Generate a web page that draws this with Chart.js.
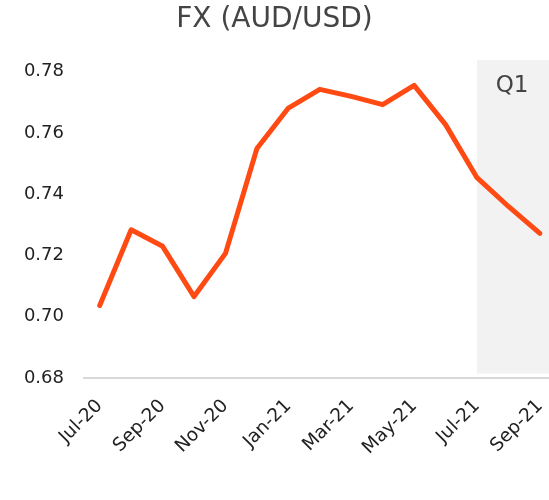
<!DOCTYPE html>
<html lang="en">
<head>
<meta charset="UTF-8">
<title>FX (AUD/USD)</title>
<script src="https://cdn.jsdelivr.net/npm/chart.js"></script>
<style>
    body { margin: 0; background: #fff; }
    .wrap { position: relative; width: 549px; height: 500px; }
</style>
</head>
<body>
<div class="wrap"><canvas id="fxChart"></canvas></div>
<script>
    // monthly AUD/USD, Jul-20 .. Sep-21
    const months = ['Jul-20','Aug-20','Sep-20','Oct-20','Nov-20','Dec-20','Jan-21','Feb-21',
                    'Mar-21','Apr-21','May-21','Jun-21','Jul-21','Aug-21','Sep-21'];
    const fxRate = [0.7037, 0.7284, 0.7230, 0.7066, 0.7207, 0.7549, 0.7681, 0.7742,
                    0.7719, 0.7692, 0.7755, 0.7627, 0.7454, 0.7360, 0.7272];
    const yTicks = [0.68, 0.70, 0.72, 0.74, 0.76, 0.78];
    const shadeFrom = 'Jul-21';
    const shadeLabel = 'Q1';

    const FONT = "'DejaVu Sans', sans-serif";

    // grey band for the quarter
    const shadePlugin = {
        id: 'shade',
        beforeDatasetsDraw(chart) {
            const { ctx, scales } = chart;
            const x0 = scales.x.getPixelForValue(months.indexOf(shadeFrom));
            const top = scales.y.getPixelForValue(0.7838);
            const bottom = scales.y.getPixelForValue(0.6815);
            ctx.save();
            ctx.fillStyle = '#f2f2f2';
            ctx.fillRect(x0, top, chart.width - x0, bottom - top);
            ctx.fillStyle = '#444';
            ctx.font = '23px ' + FONT;
            ctx.textAlign = 'center';
            ctx.textBaseline = 'middle';
            ctx.fillText(shadeLabel, (x0 + chart.width) / 2 - 1, scales.y.getPixelForValue(0.7752));
            ctx.restore();
        }
    };

    new Chart(document.getElementById('fxChart'), {
        type: 'line',
        data: {
            datasets: [{
                data: months.map((m, i) => ({ x: i, y: fxRate[i] })),
                borderColor: '#ff4a14',
                borderWidth: 5,
                pointRadius: 0,
                tension: 0,
                borderJoinStyle: 'round',
                borderCapStyle: 'round'
            }]
        },
        options: {
            responsive: true,
            maintainAspectRatio: false,
            animation: false,
            layout: { padding: { left: 0, right: 0, top: 0, bottom: 32 } },
            plugins: {
                legend: { display: false },
                tooltip: { enabled: false },
                title: {
                    display: true,
                    text: 'FX (AUD/USD)',
                    color: '#444',
                    font: { family: FONT, size: 28, weight: 'normal' },
                    padding: { top: 3, bottom: 35 }
                }
            },
            scales: {
                x: {
                    type: 'linear',
                    min: -0.5,
                    max: 14.29,
                    grid: { display: false },
                    border: { display: true, color: '#d9d9d9', width: 2 },
                    afterFit: axis => { axis.paddingLeft = 0; axis.paddingRight = 0; },
                    ticks: {
                        stepSize: 2,
                        includeBounds: false,
                        autoSkip: false,
                        minRotation: 45,
                        maxRotation: 45,
                        padding: 9,
                        color: '#222',
                        font: { family: FONT, size: 18.5 },
                        callback: v => months[v]
                    }
                },
                y: {
                    min: 0.68,
                    max: 0.78,
                    afterBuildTicks: axis => { axis.ticks = yTicks.map(v => ({ value: v })); },
                    afterFit: axis => { axis.width = 84; },
                    grid: { display: false, drawTicks: false },
                    border: { display: false },
                    ticks: {
                        padding: 20,
                        color: '#222',
                        font: { family: FONT, size: 18 },
                        callback: v => v.toFixed(2)
                    }
                }
            }
        },
        plugins: [shadePlugin]
    });
</script>
</body>
</html>
